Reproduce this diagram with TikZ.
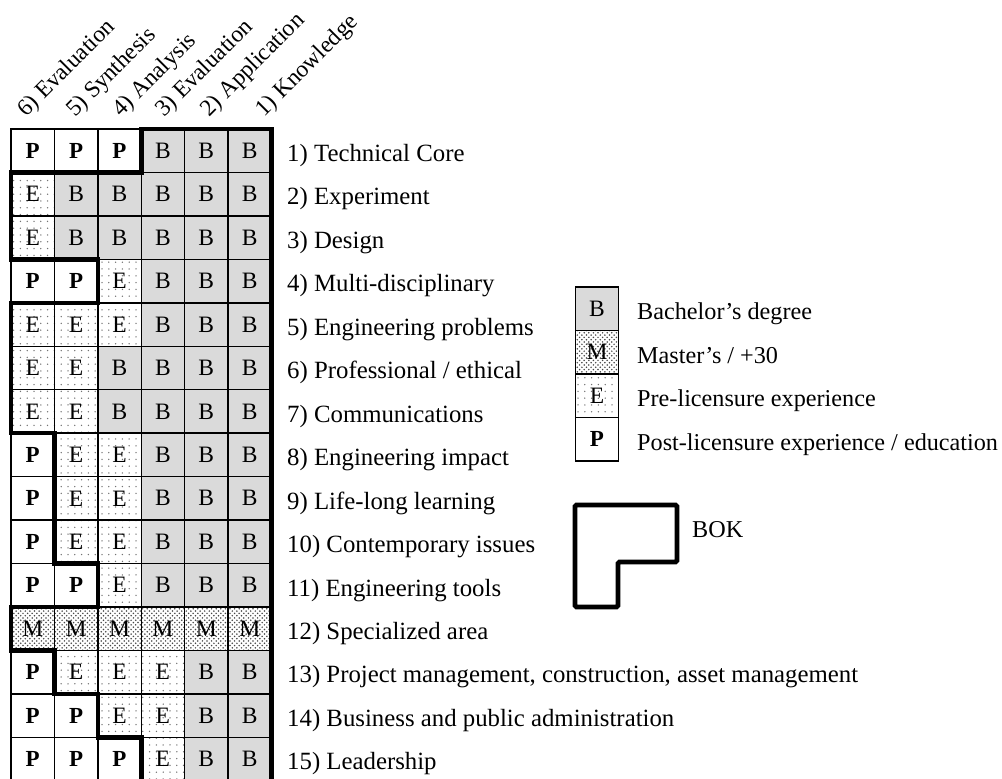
\documentclass[tikz,border=0pt]{standalone}
\usepackage{fontspec}
\setmainfont{Liberation Serif}
\usetikzlibrary{patterns}
\pgfdeclarepatternformonly{mdots}{\pgfqpoint{-1pt}{-1pt}}{\pgfqpoint{3.6pt}{3.6pt}}{\pgfqpoint{4.6pt}{4.6pt}}{%
  \pgfpathcircle{\pgfqpoint{0pt}{0pt}}{0.85pt}%
  \pgfpathcircle{\pgfqpoint{2.3pt}{2.3pt}}{0.85pt}%
  \pgfusepath{fill}}
\pgfdeclarepatternformonly{edots}{\pgfqpoint{-1pt}{-1pt}}{\pgfqpoint{1pt}{1pt}}{\pgfqpoint{6.8pt}{6.8pt}}{%
  \pgfpathcircle{\pgfqpoint{0pt}{0pt}}{0.75pt}%
  \pgfusepath{fill}}
\definecolor{bgray}{RGB}{218,218,218}
\begin{document}
\begin{tikzpicture}[x=1pt,y=-1pt,
  cell/.style={draw=black, line width=1.4pt, minimum width=43.4pt, minimum height=43.45pt,
    inner sep=0pt, font=\fontsize{23.5}{24}\selectfont},
  cellB/.style={fill=bgray},
  cellE/.style={pattern=edots, pattern color=black!55},
  cellM/.style={pattern=mdots, pattern color=black!72},
  cellP/.style={font=\fontsize{23}{24}\selectfont\bfseries},
  lab/.style={anchor=base west, inner sep=0pt, font=\fontsize{24.8}{25}\selectfont},
  leg/.style={anchor=base west, inner sep=0pt, font=\fontsize{24.2}{25}\selectfont},
  head/.style={anchor=base west, inner sep=0pt, rotate=45, font=\fontsize{23.5}{24}\selectfont},
  bokline/.style={line width=4.6pt, line join=miter}
]
\useasboundingbox (0,0) rectangle (1002,779);
\fill[white] (0,0) rectangle (1002,779);

% grid cells
\foreach \row [count=\j] in {{P,P,P,B,B,B},{E,B,B,B,B,B},{E,B,B,B,B,B},{P,P,E,B,B,B},{E,E,E,B,B,B},{E,E,B,B,B,B},{E,E,B,B,B,B},{P,E,E,B,B,B},{P,E,E,B,B,B},{P,E,E,B,B,B},{P,P,E,B,B,B},{M,M,M,M,M,M},{P,E,E,E,B,B},{P,P,E,E,B,B},{P,P,P,E,B,B}}
  \foreach \c [count=\i] in \row
    \node[cell, cell\c] (c-\j-\i) at ({11+43.4*(\i-0.5)}, {129+43.45*(\j-0.5)}) {\c};

% row labels
\foreach \t [count=\j] in {1) Technical Core, 2) Experiment, 3) Design, 4) Multi-disciplinary,
  5) Engineering problems, 6) Professional / ethical, 7) Communications, 8) Engineering impact,
  9) Life-long learning, 10) Contemporary issues, 11) Engineering tools, 12) Specialized area,
  {13) Project management, construction, asset management}, 14) Business and public administration,
  15) Leadership}
  \node[lab] (r-\j) at (287, {129+43.45*(\j-0.5)+10.8}) {\t};

% column headers
\foreach \t/\x [count=\i] in {6) Evaluation/26, 5) Synthesis/75, 4) Analysis/121, 3) Evaluation/164, 2) Application/209, 1) Knowledge/264}
  \node[head] (h-\i) at (\x, 118) {\t};

% BOK outline on the grid
\draw[bokline] (141.2,785) -- (141.2,737.3) -- (97.8,737.3) -- (97.8,693.85) -- (54.4,693.85)
  -- (54.4,650.4) -- (11,650.4) -- (11,606.95) -- (97.8,606.95) -- (97.8,563.5) -- (54.4,563.5)
  -- (54.4,433.15) -- (11,433.15) -- (11,302.8) -- (97.8,302.8) -- (97.8,259.35) -- (11,259.35)
  -- (11,172.45) -- (141.2,172.45) -- (141.2,129) -- (271.4,129) -- (271.4,785);

% legend
\node[cell, cellB] (l-B) at (597, 308.75) {B};
\node[cell, cellM] (l-M) at (597, 352.25) {M};
\node[cell, cellE] (l-E) at (597, 395.75) {E};
\node[cell, cellP] (l-P) at (597, 439.25) {P};
\node[leg] (t-B) at (637, 319.5) {Bachelor’s degree};
\node[leg] (t-M) at (637, 363) {Master’s / +30};
\node[leg] (t-E) at (637, 406.5) {Pre-licensure experience};
\node[leg] (t-P) at (637, 450) {Post-licensure experience / education};

% BOK symbol
\draw[line width=4.8pt, rounded corners=1.5pt] (575,505) -- (677,505) -- (677,562) -- (618,562)
  -- (618,607) -- (575,607) -- cycle;
\node[leg] (bok) at (692,537) {BOK};
\end{tikzpicture}
\end{document}
